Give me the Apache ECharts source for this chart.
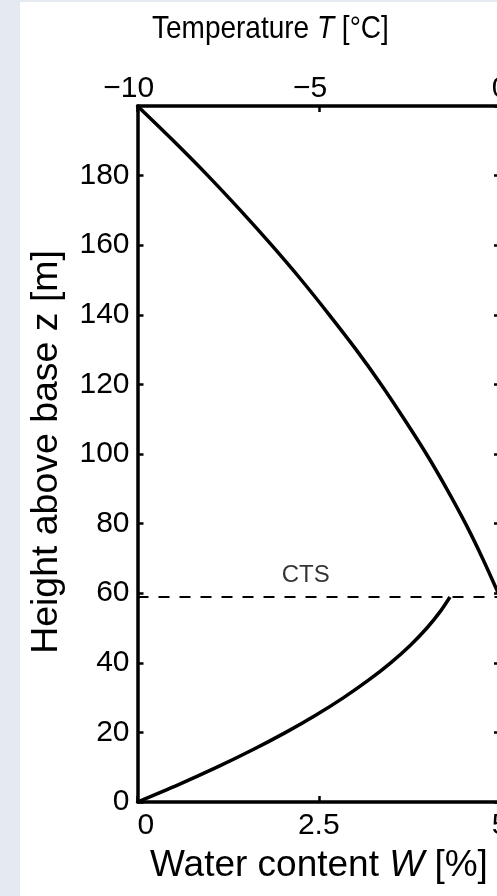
<!DOCTYPE html>
<html>
<head>
<meta charset="utf-8">
<script src="https://cdn.jsdelivr.net/npm/echarts@6/dist/echarts.min.js"></script>
<style>
html,body{margin:0;padding:0;background:#e4eaf0;}
#bg{position:absolute;left:20px;top:2px;width:477px;height:894px;background:#fff;}
#chart{position:absolute;left:0;top:0;width:497px;height:896px;}
</style>
</head>
<body>
<div id="bg"></div>
<div id="chart"></div>
<script>
// Temperature profile (top axis, °C) vs height z (m)
const tempZ = [200, 190, 180, 170, 160, 150, 140, 130, 120, 110, 100, 90, 80, 70, 58.9];
const tempT = [-10, -9.01, -8.06, -7.16, -6.30, -5.48, -4.71, -3.97, -3.28, -2.64, -2.03, -1.47, -0.95, -0.48, 0];
// Water content profile (bottom axis, %) vs height z (m)
const waterZ = [0, 5, 10, 15, 20, 25, 30, 35, 40, 45, 50, 55, 58.9];
const waterW = [0, 0.567, 1.097, 1.589, 2.045, 2.463, 2.843, 3.186, 3.492, 3.761, 3.992, 4.185, 4.31];
// CTS height (m) and label position (along W axis)
const ctsZ = 58.9;
const ctsLabelW = 2.32;
// axes
const zMin = 0, zMax = 200, zStep = 20;
const wMin = 0, wMax = 5, wStep = 2.5;
const tMin = -10, tMax = 0, tStep = 5;

const FONT = 'Liberation Sans, Arial, sans-serif';
const chart = echarts.init(document.getElementById('chart'), null, {renderer: 'canvas'});

const axisLineStyle = {color: '#000', width: 3.5};
const tickStyle = {inside: true, length: 6, lineStyle: {color: '#000', width: 2.5}};

chart.setOption({
  backgroundColor: 'transparent',
  animation: false,
  grid: {left: 137.5, top: 106, width: 362.5, height: 696, containLabel: false, outerBoundsMode: 'none'},
  xAxis: [
    {
      type: 'value', position: 'bottom', min: wMin, max: wMax, interval: wStep,
      axisLine: {show: true, onZero: false, lineStyle: axisLineStyle},
      axisTick: tickStyle, splitLine: {show: false},
      axisLabel: {color: '#000', fontSize: 30, fontFamily: FONT, margin: 9, alignMinLabel: 'left',
        formatter: v => String(v)}
    },
    {
      type: 'value', position: 'top', min: tMin, max: tMax, interval: tStep,
      axisLine: {show: true, onZero: false, lineStyle: axisLineStyle},
      axisTick: tickStyle, splitLine: {show: false},
      axisLabel: {color: '#000', fontSize: 30, fontFamily: FONT, margin: 2,
        formatter: v => v < 0 ? '\u2212' + Math.abs(v) + '{h|\u2212}' : String(v),
        rich: {h: {color: 'rgba(0,0,0,0)', fontSize: 30, fontFamily: FONT}}}
    }
  ],
  yAxis: [
    {
      type: 'value', position: 'left', min: zMin, max: zMax, interval: zStep,
      axisLine: {show: true, onZero: false, lineStyle: axisLineStyle},
      axisTick: tickStyle, splitLine: {show: false},
      axisLabel: {color: '#000', fontSize: 30, fontFamily: FONT, margin: 8, showMaxLabel: false}
    },
    {
      type: 'value', position: 'right', min: zMin, max: zMax, interval: zStep,
      axisLine: {show: true, onZero: false, lineStyle: axisLineStyle},
      axisTick: tickStyle, splitLine: {show: false},
      axisLabel: {show: false}
    }
  ],
  series: [
    {
      type: 'line', name: 'Temperature', xAxisIndex: 1, yAxisIndex: 0,
      data: tempT.map((t, i) => [t, tempZ[i]]),
      showSymbol: false, smooth: 0.3, lineStyle: {color: '#000', width: 3.5}
    },
    {
      type: 'line', name: 'Water content', xAxisIndex: 0, yAxisIndex: 0,
      data: waterW.map((w, i) => [w, waterZ[i]]),
      showSymbol: false, smooth: 0.3, lineStyle: {color: '#000', width: 3.5}
    },
    {
      type: 'line', name: 'CTS', xAxisIndex: 0, yAxisIndex: 0,
      data: [[wMin, ctsZ], [wMax, ctsZ]],
      showSymbol: false, lineStyle: {color: '#000', width: 2, type: [11, 10]}
    },
    {
      type: 'scatter', name: 'CTS label', xAxisIndex: 0, yAxisIndex: 0,
      data: [[ctsLabelW, ctsZ]], symbolSize: 0,
      label: {show: true, position: 'top', distance: 10, formatter: 'CTS', color: '#000',
        fontSize: 24, fontFamily: FONT}
    }
  ],
  graphic: [
    {
      type: 'text', x: 152, y: 13, scaleY: 1.15,
      style: {
        text: '{a|Temperature }{i|T}{a| [°C]}',
        verticalAlign: 'top',
        rich: {
          a: {fontSize: 28, fontFamily: FONT, fill: '#000'},
          i: {fontSize: 28, fontFamily: FONT, fontStyle: 'italic', fill: '#000'}
        }
      }
    },
    {
      type: 'text', x: 150, y: 847,
      style: {
        text: '{a|Water content }{i|W}{a| [%]}',
        verticalAlign: 'top',
        rich: {
          a: {fontSize: 37, fontFamily: FONT, fill: '#000'},
          i: {fontSize: 37, fontFamily: FONT, fontStyle: 'italic', fill: '#000'}
        }
      }
    },
    {
      type: 'text', x: 47, y: 452, rotation: Math.PI / 2, scaleX: 1.04,
      style: {
        text: 'Height above base z [m]',
        fontSize: 36, fontFamily: FONT, fill: '#000',
        align: 'center', verticalAlign: 'middle'
      }
    }
  ]
});
</script>
</body>
</html>
